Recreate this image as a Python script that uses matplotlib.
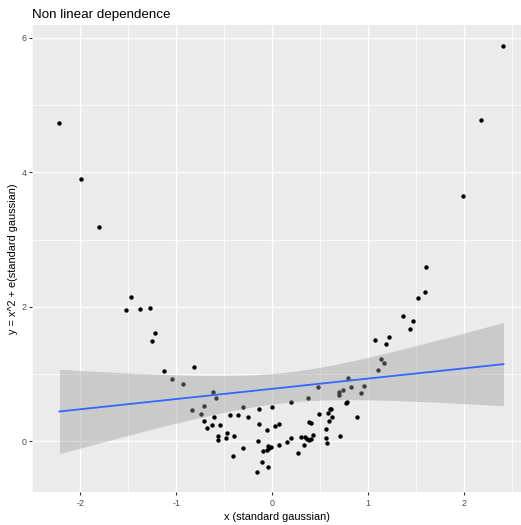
import numpy as np
import matplotlib
matplotlib.use("Agg")
import matplotlib.pyplot as plt

plt.rcParams["axes.unicode_minus"] = False

title = "Non linear dependence"
x_label = "x (standard gaussian)"
y_label = "y = x^2 + e(standard gaussian)"
x_ticks = [-2, -1, 0, 1, 2]
y_ticks = [0, 2, 4, 6]

x_vals = [-2.217, -1.997, -1.804, -1.525, -1.466, -1.377, -1.277, -1.250, -1.225, -1.129,
          -1.043, -0.929, -0.816, -0.830, -0.737, -0.709, -0.709, -0.682, -0.627, -0.616,
          -0.609, -0.582, -0.565, -0.565, -0.540, -0.475, -0.465, -0.441, -0.410, -0.392,
          -0.358, -0.303, -0.299, -0.251, -0.162, -0.151, -0.131, -0.131, -0.103, -0.093,
          -0.055, -0.055, -0.045, -0.038, -0.031, -0.010, 0.003, 0.034, 0.076, 0.076,
          0.158, 0.193, 0.196, 0.275, 0.303, 0.334, 0.344, 0.361, 0.375, 0.386,
          0.389, 0.410, 0.410, 0.427, 0.482, 0.492, 0.561, 0.565, 0.575, 0.582,
          0.599, 0.602, 0.616, 0.630, 0.695, 0.702, 0.706, 0.744, 0.771, 0.778,
          0.788, 0.826, 0.888, 0.926, 0.954, 1.071, 1.108, 1.133, 1.167, 1.184,
          1.215, 1.367, 1.442, 1.473, 1.522, 1.597, 1.604, 1.993, 2.179, 2.413]
y_vals = [4.737, 3.905, 3.186, 1.947, 2.151, 1.972, 1.982, 1.492, 1.606, 1.041,
          0.932, 0.847, 1.110, 0.471, 0.401, 0.525, 0.307, 0.203, 0.238, 0.738,
          0.367, 0.644, 0.074, 0.015, 0.248, 0.055, 0.129, 0.391, -0.213, 0.084,
          0.391, -0.099, 0.505, 0.357, -0.456, 0.010, 0.481, 0.258, -0.312, -0.144,
          0.173, -0.134, -0.382, -0.069, -0.094, -0.084, 0.515, 0.223, 0.258, -0.050,
          -0.015, 0.050, 0.585, -0.168, 0.069, -0.059, 0.069, 0.030, 0.644, 0.020,
          0.287, 0.268, 0.030, 0.094, 0.803, 0.411, 0.188, 0.050, -0.025, 0.426,
          0.307, 0.481, 0.481, 0.357, 0.738, 0.694, 0.074, 0.768, 0.565, 0.580,
          0.942, 0.803, 0.367, 0.719, 0.818, 1.501, 1.056, 1.219, 1.160, 1.442,
          1.556, 1.863, 1.670, 1.794, 2.126, 2.215, 2.587, 3.652, 4.772, 5.872]

x = np.array(x_vals)
y = np.array(y_vals)
n = len(x)
b1, b0 = np.polyfit(x, y, 1)
xs = np.linspace(x.min(), x.max(), 80)
fit = b0 + b1 * xs
resid = y - (b0 + b1 * x)
s = np.sqrt(np.sum(resid ** 2) / (n - 2))
sxx = np.sum((x - x.mean()) ** 2)
se = s * np.sqrt(1.0 / n + (xs - x.mean()) ** 2 / sxx)
tq = 1.9845
lo, hi = fit - tq * se, fit + tq * se

W, H = 521, 525
fig = plt.figure(figsize=(W / 100, H / 100), dpi=100)
left, right, top, bottom = 32.3, 521, 25, 491.7
ax = fig.add_axes([left / W, 1 - bottom / H, (right - left) / W, (bottom - top) / H])
ax.set_facecolor("#EBEBEB")
for sp in ax.spines.values():
    sp.set_visible(False)

ax.set_xlim(-2.451, 2.596)
ax.set_ylim(-0.748, 6.189)
ax.set_xticks(x_ticks)
ax.set_yticks(y_ticks)
ax.set_xticks([-2.5, -1.5, -0.5, 0.5, 1.5, 2.5], minor=True)
ax.set_yticks([1, 3, 5], minor=True)
ax.grid(which="major", color="white", linewidth=1.0)
ax.grid(which="minor", color="white", linewidth=0.55)
ax.set_axisbelow(True)
ax.tick_params(which="minor", length=0)
ax.tick_params(which="major", length=2.2, width=0.8, color="#333333",
               labelcolor="#4D4D4D", labelsize=6.4)
ax.tick_params(axis="x", pad=3)
ax.tick_params(axis="y", pad=1.8)
for lab in ax.get_xticklabels() + ax.get_yticklabels():
    lab.set_fontfamily("Liberation Sans")

ax.scatter(x, y, s=10, color="black", linewidths=0, zorder=2)
ax.fill_between(xs, lo, hi, color="#999999", alpha=0.4, linewidth=0, zorder=3)
ax.plot(xs, fit, color="#3366FF", linewidth=1.3, zorder=4)

fig.text(left / W, 1 - 18 / H, title, fontsize=9.6, family="Liberation Sans",
         ha="left", va="baseline", color="black")
fig.text((left + right) / 2 / W, 1 - 517 / H, x_label, fontsize=7.9,
         family="Liberation Sans", ha="center", va="center", color="black")
fig.text(13.5 / W, 1 - (top + bottom) / 2 / H, y_label, fontsize=7.9,
         family="Liberation Sans", ha="center", va="center", rotation=90, color="black")

fig.savefig("out.png", dpi=100)
